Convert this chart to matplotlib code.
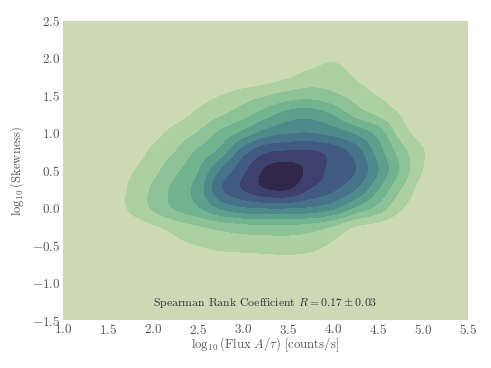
import numpy as np
import matplotlib
matplotlib.use("Agg")
import matplotlib.pyplot as plt

plt.rcParams['font.family'] = 'serif'
plt.rcParams['font.serif'] = ['cmr10']
plt.rcParams['mathtext.fontset'] = 'cm'
plt.rcParams['axes.formatter.use_mathtext'] = True

# density (in contour-level units), on a 0.25 grid
grid_x = np.arange(1.5, 5.26, 0.25)
grid_y = np.arange(2.0, -0.76, -0.25)
density = np.array([
    [0, 0, 0, 0, 0, 0, 0, 0.1, 0.3, 0.55, 0.85, 0.5, 0.1, 0, 0, 0],
    [0, 0, 0, 0, 0.05, 0.1, 0.2, 0.5, 0.9, 1.35, 1.45, 0.9, 0.4, 0.1, 0, 0],
    [0, 0, 0.1, 0.3, 0.6, 0.98, 1.5, 1.9, 2.4, 2.6, 2.2, 1.6, 0.95, 0.5, 0.2, 0],
    [0, 0.1, 0.3, 0.6, 1.2, 1.85, 2.55, 3.5, 4.4, 4.6, 3.9, 2.6, 1.8, 0.95, 0.5, 0.1],
    [0, 0.2, 0.65, 1.35, 2.05, 3.2, 4.25, 5.4, 5.9, 6.0, 5.6, 4.8, 3.6, 1.5, 0.6, 0.2],
    [0.1, 0.4, 1.2, 2.0, 3.2, 4.3, 6.5, 7.8, 8.1, 8.1, 7.6, 6.5, 4.5, 2.5, 1.05, 0.3],
    [0.15, 0.85, 1.65, 2.75, 3.9, 6.0, 7.7, 9.1, 9.4, 8.7, 7.6, 7.0, 5.0, 2.8, 0.95, 0.3],
    [0.2, 1.15, 2.15, 3.3, 4.4, 6.8, 8.0, 8.9, 9.0, 7.9, 7.15, 6.0, 4.0, 2.0, 0.5, 0.1],
    [0.2, 1.15, 2.1, 3.1, 3.85, 5.1, 5.8, 6.0, 6.0, 5.8, 5.2, 3.8, 2.6, 1.1, 0.4, 0.1],
    [0, 0.4, 0.85, 1.4, 1.9, 2.3, 2.6, 2.7, 2.7, 2.5, 1.9, 0.95, 0.6, 0.3, 0.1, 0],
    [0, 0, 0.25, 0.7, 1.0, 1.3, 1.4, 1.45, 1.5, 1.35, 0.8, 0.4, 0.2, 0, 0, 0],
    [0, 0, 0, 0.1, 0.2, 0.3, 0.4, 0.5, 0.55, 0.45, 0.25, 0.1, 0, 0, 0, 0],
])

band_colors = ['#cbd9b6', '#acd0a1', '#8dc296', '#72b48f', '#5c9f8c',
               '#4e8a89', '#467389', '#425b83', '#3d416b', '#31274a']
levels = [-10, 1, 2, 3, 4, 5, 6, 7, 8, 9, 100]

x_ticks = [1.0, 1.5, 2.0, 2.5, 3.0, 3.5, 4.0, 4.5, 5.0, 5.5]
y_ticks = [-1.5, -1.0, -0.5, 0.0, 0.5, 1.0, 1.5, 2.0, 2.5]


def cubic_matrix(n, t):
    # catmull-rom weights, coarse index positions t
    a = -0.5
    W = np.zeros((len(t), n))
    i0 = np.floor(t).astype(int)
    rows = np.arange(len(t))
    for k in range(-1, 3):
        idx = i0 + k
        d = np.abs(t - idx)
        w = np.where(d < 1, (a + 2) * d**3 - (a + 3) * d**2 + 1,
                     np.where(d < 2, a * d**3 - 5 * a * d**2 + 8 * a * d - 4 * a, 0))
        np.add.at(W, (rows, np.clip(idx, 0, n - 1)), w)
    return W


# pad to the full axes range, bottom row first
z = density[::-1]
full_x = np.arange(1.0, 5.51, 0.25)
full_y = np.arange(-1.5, 2.51, 0.25)
Z = np.zeros((len(full_y), len(full_x)))
ix = int(round((grid_x[0] - 1.0) / 0.25))
iy = int(round((grid_y[-1] + 1.5) / 0.25))
Z[iy:iy + z.shape[0], ix:ix + z.shape[1]] = z

fx = np.linspace(1.0, 5.5, 226)
fy = np.linspace(-1.5, 2.5, 201)
Wx = cubic_matrix(len(full_x), (fx - 1.0) / 0.25)
Wy = cubic_matrix(len(full_y), (fy + 1.5) / 0.25)
Zf = Wy @ Z @ Wx.T

fig = plt.figure(figsize=(4.91, 3.68), dpi=100)
ax = fig.add_axes([0.128, 0.130, 0.825, 0.813])
ax.set_facecolor(band_colors[0])
ax.contourf(fx, fy, Zf, levels=levels, colors=band_colors)

ax.set_xlim(1.0, 5.5)
ax.set_ylim(-1.5, 2.5)
ax.set_xticks(x_ticks)
ax.set_yticks(y_ticks)
ax.tick_params(length=0, labelsize=9.5, colors='#555555', pad=2)
for s in ax.spines.values():
    s.set_visible(False)

ax.set_xlabel(r'$\log_{10}(\mathrm{Flux}\ A/\tau)\ [\mathrm{counts/s}]$',
              fontsize=9.2, color='#555555', labelpad=-1)
ax.set_ylabel(r'$\log_{10}(\mathrm{Skewness})$', fontsize=9.2,
              color='#555555', labelpad=4)
ax.text(3.25, -1.27, r'Spearman Rank Coefficient $R = 0.17 \pm 0.03$',
        ha='center', va='center', fontsize=8.5, color='#333333')

fig.savefig('out.png', dpi=100)
